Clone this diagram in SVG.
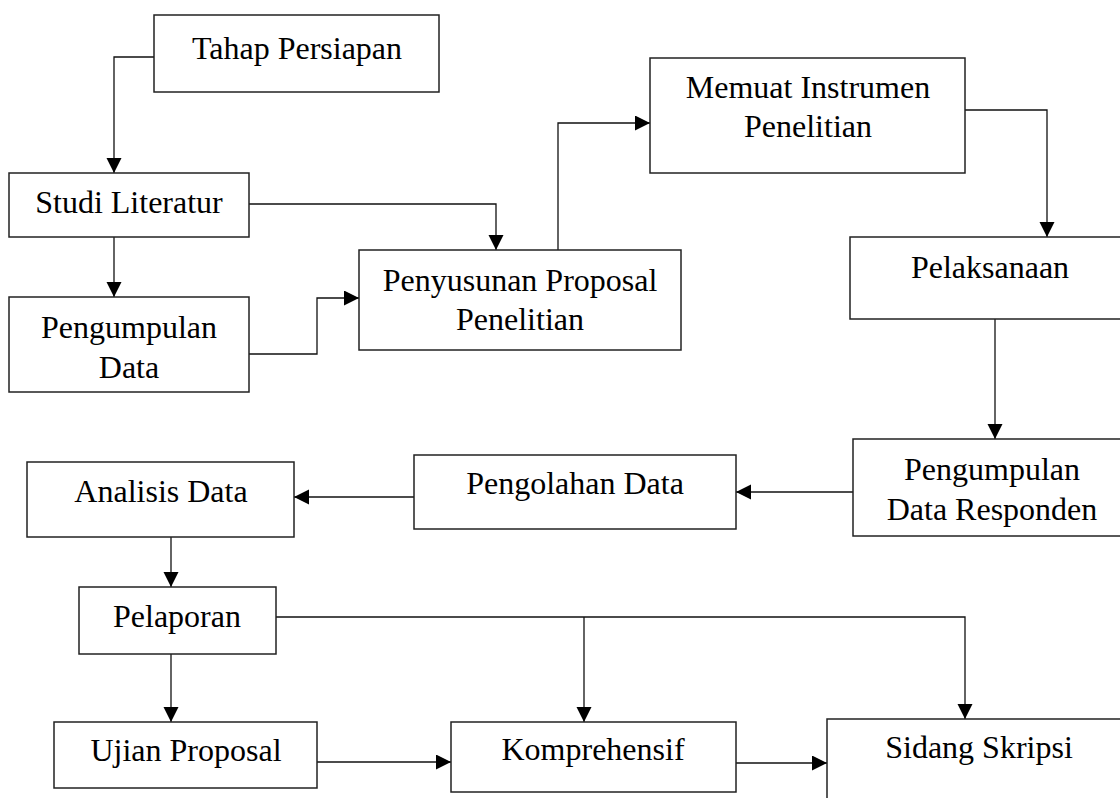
<svg xmlns="http://www.w3.org/2000/svg" width="1120" height="798" viewBox="0 0 1120 798">
<defs>
<style>
.box{fill:#fff;stroke:#222;stroke-width:1.5}
.t{font-family:"Liberation Serif","Times New Roman",serif;font-size:32px;fill:#000;text-anchor:middle}
.c{fill:none;stroke:#111;stroke-width:1.3}
</style>
<marker id="ah" markerUnits="userSpaceOnUse" markerWidth="16" markerHeight="16" refX="15" refY="7.5" orient="auto">
<path d="M0,0 L15,7.5 L0,15 z" fill="#000"/>
</marker>
</defs>
<rect width="1120" height="798" fill="#fff"/>
<g id="connectors">
<path class="c" d="M154,57 H114 V173" marker-end="url(#ah)"/>
<path class="c" d="M114,237 V297" marker-end="url(#ah)"/>
<path class="c" d="M249,204 H496 V250" marker-end="url(#ah)"/>
<path class="c" d="M249,354 H317 V298 H359" marker-end="url(#ah)"/>
<path class="c" d="M558,250 V123 H650" marker-end="url(#ah)"/>
<path class="c" d="M965,110 H1047 V237" marker-end="url(#ah)"/>
<path class="c" d="M995,319 V439" marker-end="url(#ah)"/>
<path class="c" d="M853,492 H736" marker-end="url(#ah)"/>
<path class="c" d="M414,497 H294" marker-end="url(#ah)"/>
<path class="c" d="M171,537 V587" marker-end="url(#ah)"/>
<path class="c" d="M171,654 V722" marker-end="url(#ah)"/>
<path class="c" d="M276,617 H965 V719" marker-end="url(#ah)"/>
<path class="c" d="M584,617 V722" marker-end="url(#ah)"/>
<path class="c" d="M317,762 H451" marker-end="url(#ah)"/>
<path class="c" d="M736,763 H827" marker-end="url(#ah)"/>
</g>
<g id="tahap-persiapan">
<rect class="box" x="154" y="15" width="285" height="77"/>
<text class="t" x="297" y="59">Tahap Persiapan</text>
</g>
<g id="studi-literatur">
<rect class="box" x="9" y="173" width="240" height="64"/>
<text class="t" x="129" y="213">Studi Literatur</text>
</g>
<g id="pengumpulan-data">
<rect class="box" x="9" y="297" width="240" height="95"/>
<text class="t" x="129" y="338">Pengumpulan</text>
<text class="t" x="129" y="378">Data</text>
</g>
<g id="penyusunan-proposal">
<rect class="box" x="359" y="250" width="322" height="100"/>
<text class="t" x="520" y="291">Penyusunan Proposal</text>
<text class="t" x="520" y="330">Penelitian</text>
</g>
<g id="memuat-instrumen">
<rect class="box" x="650" y="58" width="315" height="115"/>
<text class="t" x="808" y="98">Memuat Instrumen</text>
<text class="t" x="808" y="137">Penelitian</text>
</g>
<g id="pelaksanaan">
<rect class="box" x="850" y="237" width="272" height="82"/>
<text class="t" x="990" y="278">Pelaksanaan</text>
</g>
<g id="pengumpulan-data-responden">
<rect class="box" x="853" y="439" width="272" height="97"/>
<text class="t" x="992" y="480">Pengumpulan</text>
<text class="t" x="992" y="520">Data Responden</text>
</g>
<g id="pengolahan-data">
<rect class="box" x="414" y="455" width="322" height="74"/>
<text class="t" x="575" y="494">Pengolahan Data</text>
</g>
<g id="analisis-data">
<rect class="box" x="27" y="462" width="267" height="75"/>
<text class="t" x="161" y="502">Analisis Data</text>
</g>
<g id="pelaporan">
<rect class="box" x="79" y="587" width="197" height="67"/>
<text class="t" x="177" y="627">Pelaporan</text>
</g>
<g id="ujian-proposal">
<rect class="box" x="54" y="722" width="263" height="66"/>
<text class="t" x="186" y="761">Ujian Proposal</text>
</g>
<g id="komprehensif">
<rect class="box" x="451" y="722" width="285" height="70"/>
<text class="t" x="593" y="760">Komprehensif</text>
</g>
<g id="sidang-skripsi">
<rect class="box" x="827" y="719" width="300" height="90"/>
<text class="t" x="979" y="758">Sidang Skripsi</text>
</g>
</svg>
